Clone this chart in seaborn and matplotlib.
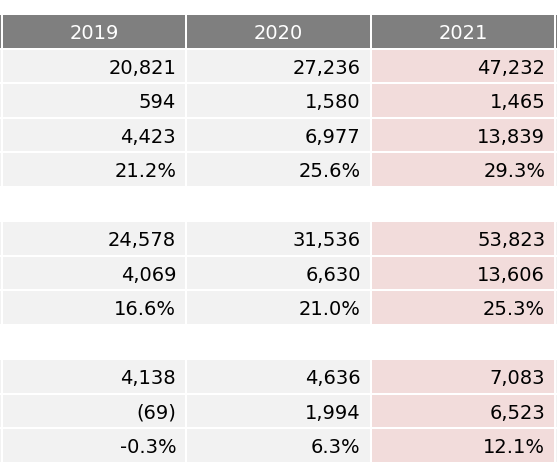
import matplotlib
matplotlib.use("Agg")
import matplotlib.pyplot as plt
from matplotlib.colors import ListedColormap
import numpy as np
import pandas as pd
import seaborn as sns

years = ["2019", "2020", "2021"]
col_2019 = ["20,821", "594", "4,423", "21.2%", "",
            "24,578", "4,069", "16.6%", "",
            "4,138", "(69)", "-0.3%"]
col_2020 = ["27,236", "1,580", "6,977", "25.6%", "",
            "31,536", "6,630", "21.0%", "",
            "4,636", "1,994", "6.3%"]
col_2021 = ["47,232", "1,465", "13,839", "29.3%", "",
            "53,823", "13,606", "25.3%", "",
            "7,083", "6,523", "12.1%"]

sns.set_theme(style="white")
plt.rcParams["font.family"] = ["DejaVu Sans"]

# cell colour codes: 0 header, 1 plain cell, 2 highlighted (latest year)
# the table is cropped, so one extra column is shown on each side
cols = [col_2019, col_2019, col_2020, col_2021, col_2021]
n_rows = len(col_2019) + 1
codes = np.full((n_rows, len(cols)), np.nan)
codes[0, :] = 0
for i in range(1, n_rows):
    if col_2019[i - 1] != "":
        codes[i, :] = 1
        codes[i, 3] = 2
grid = pd.DataFrame(codes)

fig = plt.figure(figsize=(5.57, 4.72), dpi=100)
W, H = 557, 472
pitch_x, pitch_y = 184.5, 34.5
x0, y0 = 1.8 - pitch_x, 14
ax = fig.add_axes([x0 / W, (H - y0 - n_rows * pitch_y) / H,
                   len(cols) * pitch_x / W, n_rows * pitch_y / H])

cmap = ListedColormap(["#7f7f7f", "#f2f2f2", "#f2dcdb"])
sns.heatmap(grid, ax=ax, cmap=cmap, vmin=-0.5, vmax=2.5, cbar=False,
            mask=grid.isna(), linewidths=1.2, linecolor="white",
            xticklabels=False, yticklabels=False)
ax.set_facecolor("white")

for j, year in enumerate(years):
    ax.text(j + 1.5, 0.72, year, ha="center", va="baseline",
            color="white", fontsize=14)
    values = [col_2019, col_2020, col_2021][j]
    for i, v in enumerate(values):
        if v:
            ax.text(j + 2 - 0.055, i + 1.73, v, ha="right", va="baseline",
                    color="black", fontsize=14)

fig.savefig("out.png", dpi=100)
